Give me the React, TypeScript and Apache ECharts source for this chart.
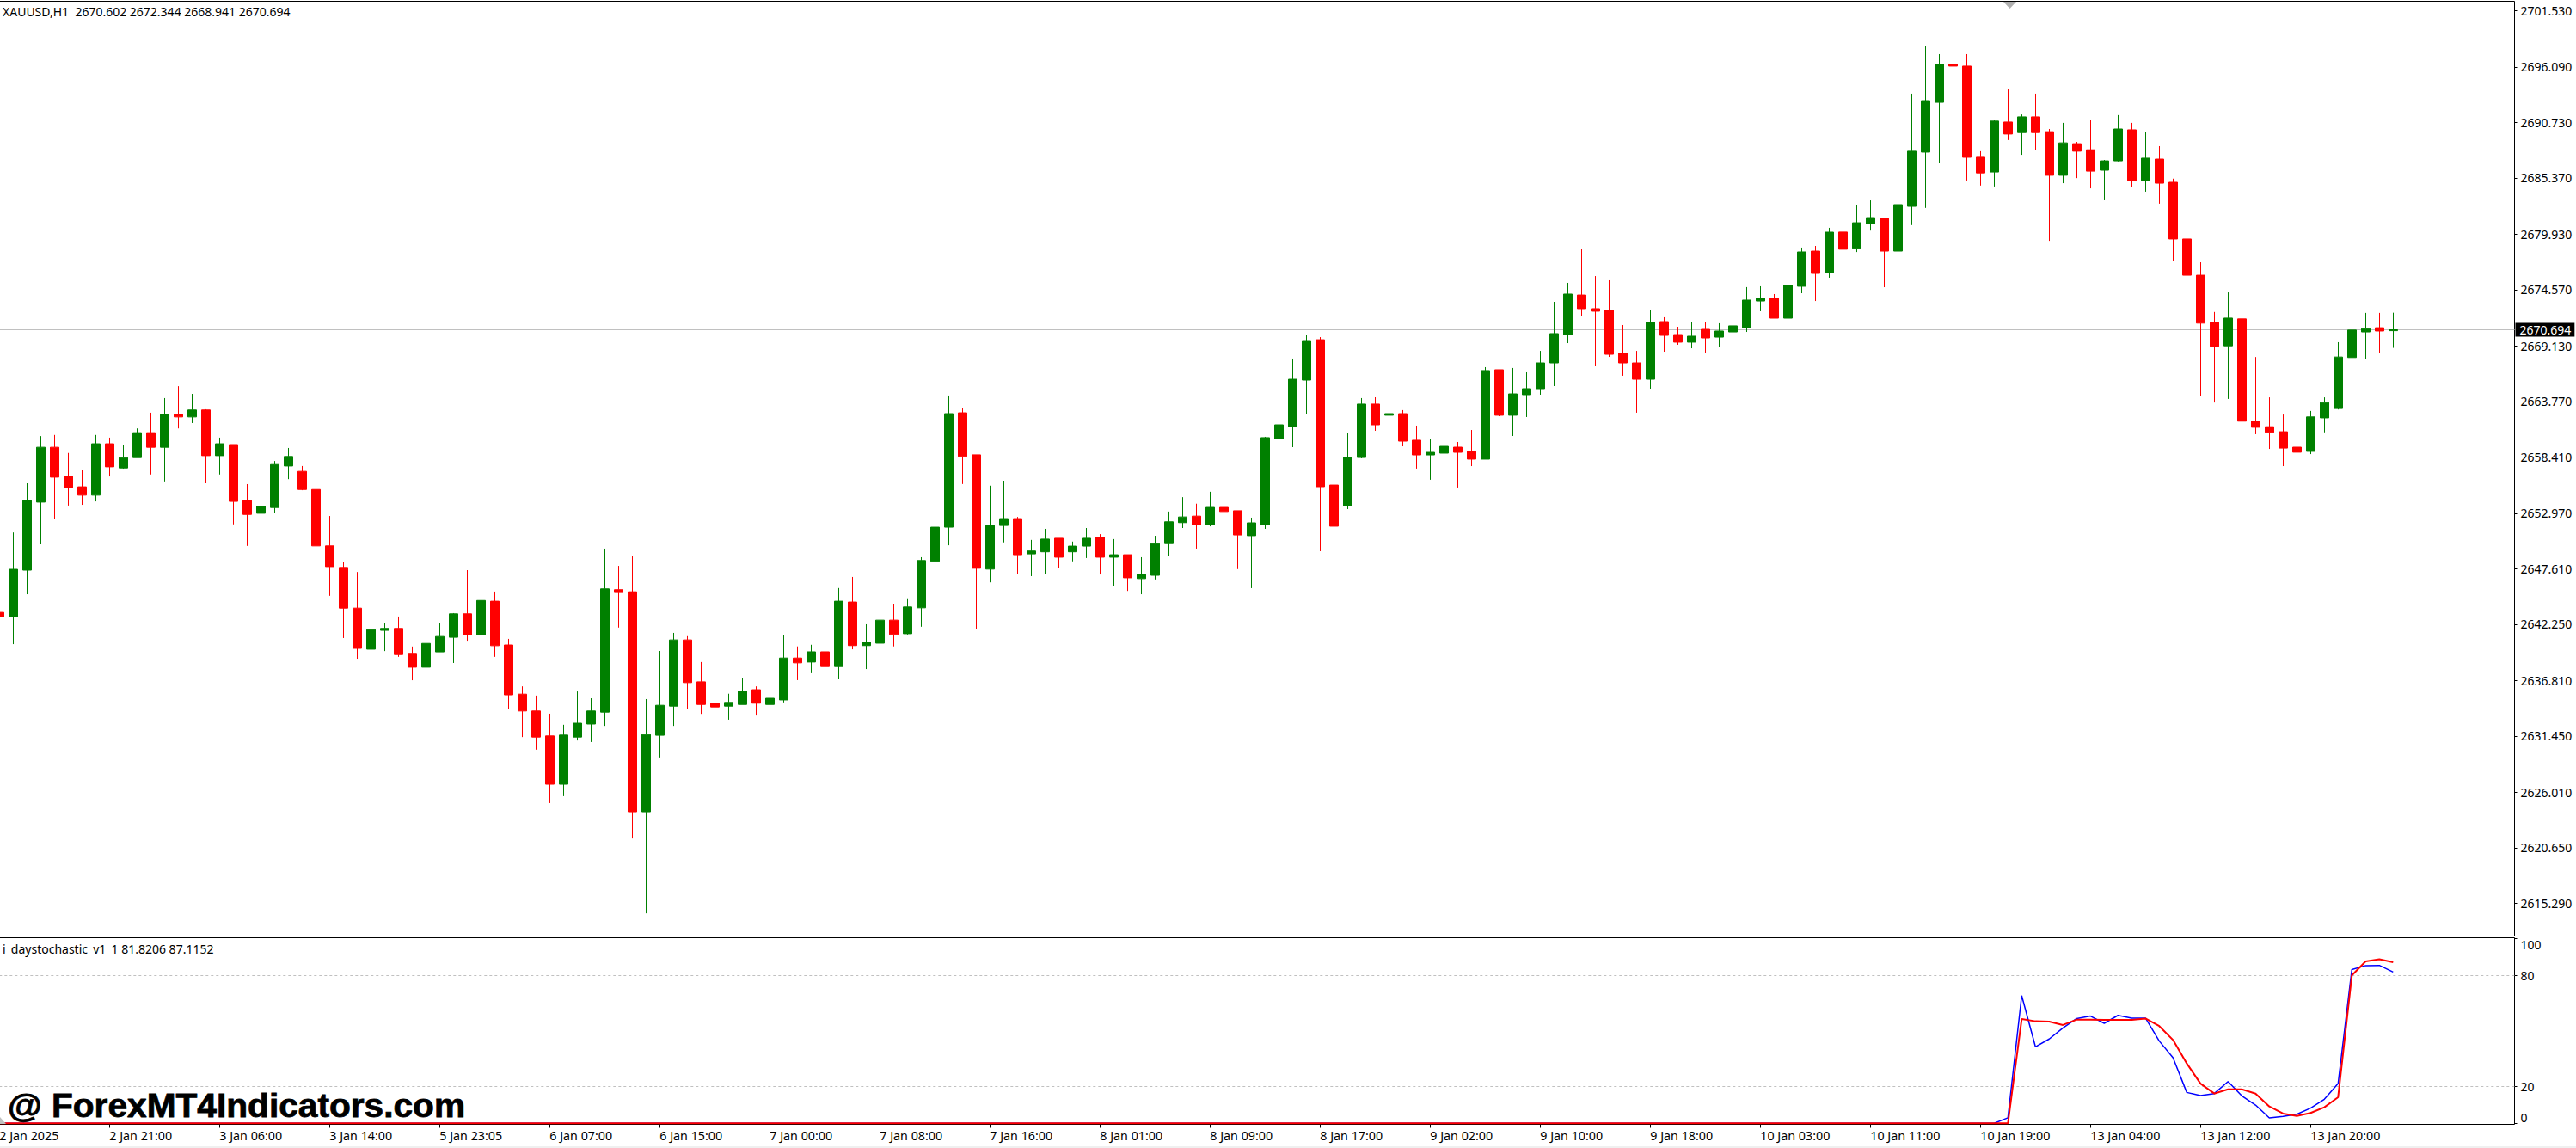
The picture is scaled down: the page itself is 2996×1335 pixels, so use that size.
import React, { useEffect, useRef } from 'react';
import * as echarts from 'echarts';

const opens = [
  2643.39, 2642.95, 2647.47, 2654.04, 2659.34, 2656.52, 2655.52, 2654.71, 2659.68, 2657.34,
  2658.34, 2660.75, 2659.34, 2662.50, 2662.27, 2662.94, 2658.53, 2659.60, 2654.19, 2652.96,
  2653.52, 2657.53, 2657.01, 2655.26, 2649.81, 2647.73, 2643.80, 2639.83, 2641.65, 2641.84,
  2639.43, 2638.09, 2639.57, 2640.98, 2643.25, 2641.24, 2644.47, 2640.24, 2635.49, 2633.86,
  2631.45, 2626.78, 2631.34, 2632.60, 2633.75, 2645.58, 2645.38, 2624.12, 2631.51, 2634.33,
  2640.73, 2636.68, 2634.61, 2634.33, 2634.49, 2635.92, 2634.49, 2634.93, 2638.98, 2638.59,
  2639.58, 2638.15, 2644.39, 2640.18, 2640.41, 2642.64, 2641.33, 2643.83, 2648.32, 2651.62,
  2662.67, 2658.61, 2647.57, 2651.78, 2652.45, 2649.04, 2649.24, 2650.55, 2649.24, 2649.79,
  2650.63, 2648.72, 2648.96, 2646.65, 2646.97, 2650.03, 2652.06, 2652.69, 2651.86, 2653.53,
  2653.21, 2650.80, 2651.87, 2660.18, 2661.34, 2665.83, 2669.73, 2655.69, 2653.70, 2658.35,
  2663.51, 2662.43, 2662.59, 2660.02, 2658.60, 2658.77, 2659.35, 2658.93, 2658.19, 2666.83,
  2662.43, 2664.42, 2665.00, 2667.49, 2670.23, 2674.05, 2672.73, 2672.56, 2668.41, 2667.49,
  2665.91, 2671.48, 2670.23, 2669.49, 2670.73, 2669.98, 2670.48, 2670.90, 2673.47, 2673.72,
  2671.81, 2674.89, 2678.29, 2676.22, 2680.13, 2678.56, 2680.94, 2681.44, 2678.29, 2682.61,
  2687.85, 2692.66, 2696.33, 2696.16, 2687.44, 2685.93, 2690.76, 2689.74, 2691.26, 2689.83,
  2685.61, 2688.67, 2688.08, 2686.10, 2687.01, 2690.01, 2685.11, 2687.18, 2684.94, 2679.46,
  2675.96, 2671.39, 2669.14, 2671.74, 2661.86, 2661.33, 2660.84, 2659.35, 2658.94, 2662.18,
  2663.08, 2668.01, 2670.48, 2670.89, 2670.60,
];
const closes = [
  2642.95, 2647.55, 2654.19, 2659.34, 2656.45, 2655.45, 2654.71, 2659.68, 2657.45, 2658.34,
  2660.75, 2659.34, 2662.50, 2662.27, 2662.94, 2658.53, 2659.68, 2654.11, 2652.85, 2653.63,
  2657.67, 2658.45, 2655.26, 2649.81, 2647.81, 2643.80, 2639.91, 2641.72, 2641.84, 2639.31,
  2638.09, 2640.39, 2641.06, 2643.25, 2641.24, 2644.54, 2640.17, 2635.42, 2633.86, 2631.34,
  2626.78, 2631.53, 2632.68, 2633.86, 2645.66, 2645.30, 2624.12, 2631.59, 2634.41, 2640.73,
  2636.60, 2634.49, 2634.25, 2634.69, 2635.76, 2634.61, 2635.09, 2638.98, 2638.51, 2639.58,
  2638.15, 2644.47, 2640.18, 2640.49, 2642.64, 2641.25, 2643.91, 2648.40, 2651.62, 2662.59,
  2658.45, 2647.65, 2651.78, 2652.45, 2648.96, 2649.32, 2650.47, 2648.72, 2649.79, 2650.55,
  2648.72, 2648.96, 2646.73, 2647.05, 2650.03, 2652.14, 2652.61, 2651.86, 2653.53, 2653.13,
  2650.87, 2652.04, 2660.27, 2661.51, 2665.91, 2669.65, 2655.53, 2651.71, 2658.35, 2663.51,
  2661.51, 2662.59, 2659.93, 2658.60, 2658.85, 2659.43, 2658.85, 2658.19, 2666.75, 2662.43,
  2664.50, 2665.00, 2667.49, 2670.32, 2674.14, 2672.73, 2672.48, 2668.32, 2667.49, 2665.91,
  2671.40, 2670.15, 2669.49, 2670.07, 2669.90, 2670.57, 2671.07, 2673.56, 2673.72, 2671.81,
  2674.97, 2678.21, 2676.13, 2680.12, 2678.47, 2681.03, 2681.53, 2678.29, 2682.78, 2687.94,
  2692.83, 2696.33, 2696.16, 2687.35, 2685.84, 2690.85, 2689.60, 2691.26, 2689.74, 2685.61,
  2688.75, 2687.94, 2686.01, 2687.01, 2690.09, 2685.11, 2687.27, 2684.85, 2679.46, 2675.96,
  2671.33, 2669.08, 2671.82, 2661.86, 2661.27, 2660.78, 2659.26, 2658.86, 2662.27, 2663.66,
  2668.06, 2670.66, 2670.80, 2670.57, 2670.69,
];
const highs = [
  2643.39, 2651.11, 2655.86, 2660.42, 2660.53, 2658.79, 2657.19, 2660.53, 2660.27, 2659.60,
  2661.16, 2662.68, 2664.09, 2665.24, 2664.50, 2663.01, 2660.27, 2659.60, 2655.78, 2656.04,
  2658.01, 2659.27, 2657.53, 2656.45, 2652.70, 2648.29, 2647.29, 2642.65, 2642.39, 2642.99,
  2640.09, 2640.72, 2642.39, 2643.32, 2647.47, 2645.32, 2645.40, 2640.83, 2636.24, 2635.35,
  2633.60, 2632.53, 2635.75, 2635.09, 2649.55, 2647.88, 2648.88, 2635.01, 2639.66, 2641.41,
  2641.09, 2638.59, 2635.53, 2635.53, 2637.08, 2636.24, 2635.17, 2641.17, 2640.10, 2640.26,
  2639.74, 2645.74, 2646.81, 2642.24, 2644.90, 2644.23, 2644.75, 2648.72, 2652.77, 2664.34,
  2663.10, 2658.61, 2655.63, 2656.11, 2652.61, 2650.39, 2651.46, 2650.55, 2650.23, 2651.54,
  2650.95, 2650.47, 2648.96, 2648.72, 2650.79, 2653.13, 2654.52, 2653.89, 2655.04, 2655.20,
  2653.21, 2652.54, 2660.35, 2667.74, 2667.91, 2670.15, 2669.98, 2659.18, 2660.68, 2664.09,
  2664.17, 2663.26, 2662.93, 2661.43, 2660.18, 2662.18, 2659.85, 2661.01, 2667.08, 2666.83,
  2667.00, 2666.58, 2668.65, 2673.39, 2675.22, 2678.46, 2675.88, 2675.47, 2671.15, 2668.65,
  2672.56, 2671.90, 2670.98, 2671.40, 2671.40, 2671.32, 2671.90, 2674.81, 2674.89, 2674.14,
  2675.97, 2678.63, 2678.79, 2680.54, 2682.46, 2682.78, 2683.19, 2681.53, 2683.86, 2693.50,
  2698.14, 2697.32, 2698.08, 2697.32, 2687.94, 2691.00, 2693.91, 2691.49, 2693.50, 2690.09,
  2690.68, 2688.84, 2691.00, 2687.09, 2691.43, 2690.68, 2689.83, 2688.43, 2685.29, 2680.62,
  2677.21, 2672.41, 2674.30, 2672.99, 2668.06, 2664.16, 2662.50, 2660.69, 2662.85, 2664.16,
  2669.49, 2671.15, 2672.32, 2672.32, 2672.34,
];
const lows = [
  2642.95, 2640.32, 2645.14, 2649.96, 2652.44, 2653.71, 2653.78, 2654.11, 2656.52, 2657.27,
  2658.34, 2656.71, 2656.04, 2661.16, 2661.68, 2655.86, 2656.71, 2651.89, 2649.81, 2652.78,
  2652.96, 2656.26, 2655.19, 2643.32, 2644.99, 2640.91, 2638.91, 2638.98, 2639.65, 2639.09,
  2636.83, 2636.57, 2639.57, 2638.50, 2640.65, 2639.65, 2639.09, 2634.08, 2631.34, 2630.12,
  2624.96, 2625.63, 2631.01, 2630.86, 2632.42, 2641.92, 2621.54, 2614.31, 2629.37, 2632.42,
  2634.09, 2633.58, 2632.79, 2633.02, 2634.49, 2633.42, 2632.86, 2634.69, 2636.84, 2637.51,
  2637.24, 2636.92, 2639.82, 2637.91, 2640.01, 2640.10, 2641.25, 2642.00, 2647.29, 2649.87,
  2655.79, 2641.80, 2646.29, 2650.15, 2647.13, 2646.89, 2647.13, 2647.65, 2648.32, 2648.64,
  2647.05, 2645.90, 2645.46, 2645.14, 2646.57, 2648.80, 2651.54, 2649.55, 2651.70, 2652.61,
  2647.57, 2645.73, 2651.46, 2659.93, 2659.35, 2662.59, 2649.30, 2651.71, 2653.37, 2658.27,
  2660.93, 2661.93, 2659.43, 2657.28, 2656.20, 2658.44, 2655.45, 2657.52, 2658.19, 2662.34,
  2660.43, 2662.26, 2664.42, 2665.25, 2669.40, 2671.98, 2667.16, 2668.07, 2666.25, 2662.68,
  2665.00, 2668.57, 2669.24, 2668.90, 2668.49, 2668.99, 2669.24, 2670.48, 2672.48, 2671.81,
  2671.56, 2674.22, 2673.47, 2675.72, 2677.62, 2678.20, 2680.27, 2674.80, 2664.01, 2680.80,
  2682.46, 2686.77, 2692.43, 2685.11, 2684.62, 2684.53, 2689.02, 2687.59, 2688.08, 2679.28,
  2684.85, 2685.34, 2684.35, 2683.28, 2686.95, 2684.44, 2684.03, 2682.87, 2677.30, 2675.47,
  2664.33, 2663.66, 2664.01, 2661.01, 2660.60, 2659.18, 2657.52, 2656.70, 2658.68, 2660.78,
  2662.99, 2666.40, 2667.83, 2668.41, 2668.94,
];

const signalLine = [
  0, 0, 0, 0, 0, 0, 0, 0, 0, 0, 0, 0, 0, 0, 0, 0, 0, 0, 0, 0,
  0, 0, 0, 0, 0, 0, 0, 0, 0, 0, 0, 0, 0, 0, 0, 0, 0, 0, 0, 0,
  0, 0, 0, 0, 0, 0, 0, 0, 0, 0, 0, 0, 0, 0, 0, 0, 0, 0, 0, 0,
  0, 0, 0, 0, 0, 0, 0, 0, 0, 0, 0, 0, 0, 0, 0, 0, 0, 0, 0, 0,
  0, 0, 0, 0, 0, 0, 0, 0, 0, 0, 0, 0, 0, 0, 0, 0, 0, 0, 0, 0,
  0, 0, 0, 0, 0, 0, 0, 0, 0, 0, 0, 0, 0, 0, 0, 0, 0, 0, 0, 0,
  0, 0, 0, 0, 0, 0, 0, 0, 0, 0, 0, 0, 0, 0, 0, 0, 0, 0, 0, 0,
  0, 0, 0, 0, 0, 0, 3,
  69.1, 41.4, 45.6, 51.6, 56.7, 58.0, 54.1, 58.4, 56.9, 56.9,
  44.5, 35.5, 16.7, 15.0, 16.1, 22.6, 14.9, 9.9, 2.9, 3.7,
  4.9, 8.2, 13.0, 21.5, 83.2, 85.3, 85.4, 81.82,
];
const mainLine = [
  0, 0, 0, 0, 0, 0, 0, 0, 0, 0, 0, 0, 0, 0, 0, 0, 0, 0, 0, 0,
  0, 0, 0, 0, 0, 0, 0, 0, 0, 0, 0, 0, 0, 0, 0, 0, 0, 0, 0, 0,
  0, 0, 0, 0, 0, 0, 0, 0, 0, 0, 0, 0, 0, 0, 0, 0, 0, 0, 0, 0,
  0, 0, 0, 0, 0, 0, 0, 0, 0, 0, 0, 0, 0, 0, 0, 0, 0, 0, 0, 0,
  0, 0, 0, 0, 0, 0, 0, 0, 0, 0, 0, 0, 0, 0, 0, 0, 0, 0, 0, 0,
  0, 0, 0, 0, 0, 0, 0, 0, 0, 0, 0, 0, 0, 0, 0, 0, 0, 0, 0, 0,
  0, 0, 0, 0, 0, 0, 0, 0, 0, 0, 0, 0, 0, 0, 0, 0, 0, 0, 0, 0,
  0, 0, 0, 0, 0, 0, 0,
  56.4, 55.2, 55.0, 53.2, 56.1, 56.1, 56.0, 56.0, 56.0, 56.7,
  52.6, 45.1, 32.4, 21.5, 16.1, 18.4, 18.4, 16.1, 9.1, 5.3,
  4.0, 5.6, 8.7, 14.1, 80.0, 87.6, 88.7, 87.12,
];

const priceTicks = [
  2701.53, 2696.09, 2690.73, 2685.37, 2679.93, 2674.57, 2669.13, 2663.77, 2658.41,
  2652.97, 2647.61, 2642.25, 2636.81, 2631.45, 2626.01, 2620.65, 2615.29,
];
const stochTicks = [0, 20, 80, 100];
const stochLevels = [80, 20];
const timeTickBars = [
  0, 8, 16, 24, 32, 40, 48, 56, 64, 72, 80, 88, 96, 104, 112, 120, 128, 136, 144, 152, 160, 168,
];
const timeLabels = [
  '2 Jan 2025', '2 Jan 21:00', '3 Jan 06:00', '3 Jan 14:00', '5 Jan 23:05', '6 Jan 07:00',
  '6 Jan 15:00', '7 Jan 00:00', '7 Jan 08:00', '7 Jan 16:00', '8 Jan 01:00', '8 Jan 09:00',
  '8 Jan 17:00', '9 Jan 02:00', '9 Jan 10:00', '9 Jan 18:00', '10 Jan 03:00', '10 Jan 11:00',
  '10 Jan 19:00', '13 Jan 04:00', '13 Jan 12:00', '13 Jan 20:00',
];
const lastPrice = 2670.694;

const UI_FONT = '"Noto Sans", sans-serif';
const FONT_SIZE = 14;

export default function App() {
  const ref = useRef<HTMLDivElement>(null);
  useEffect(() => {
    if (!ref.current) return;
    const chart = echarts.init(ref.current, undefined, { renderer: 'svg' });
    const xExtent = { type: 'value' as const, min: 0, max: 182.825, splitLine: { show: false } };
    const pane = { left: -0.7, width: 2925.2, show: true, borderColor: '#000', borderWidth: 1, backgroundColor: 'transparent', outerBoundsMode: 'none' };
    chart.setOption({
      animation: false,
      backgroundColor: '#fff',
      grid: [
        { ...pane, top: 1.5, height: 1087 },
        { ...pane, top: 1090.5, height: 217 },
      ],
      xAxis: [
        { ...xExtent, gridIndex: 0, axisLine: { show: false, onZero: false }, axisTick: { show: false }, axisLabel: { show: false } },
        {
          ...xExtent,
          gridIndex: 1,
          axisLine: { show: false, onZero: false },
          axisTick: { show: true, customValues: timeTickBars, length: 4, lineStyle: { color: '#000' } },
          axisLabel: {
            customValues: timeTickBars,
            formatter: (v: number) => timeLabels[timeTickBars.indexOf(v)],
            align: 'left',
            color: '#000',
            fontFamily: UI_FONT,
            fontSize: 14.3,
            margin: 6,
          },
        },
      ],
      yAxis: [
        {
          type: 'value',
          gridIndex: 0,
          position: 'right',
          min: 2612.12,
          max: 2702.427,
          splitLine: { show: false },
          axisLine: { show: false, onZero: false },
          axisTick: { show: true, customValues: priceTicks, length: 3, lineStyle: { color: '#000' } },
          axisLabel: {
            customValues: priceTicks,
            formatter: (v: number) => v.toFixed(3),
            color: '#000',
            fontFamily: UI_FONT,
            fontSize: FONT_SIZE,
            margin: 7,
          },
        },
        {
          type: 'value',
          gridIndex: 1,
          position: 'right',
          min: -0.56,
          max: 100.37,
          splitLine: { show: false },
          axisLine: { show: false, onZero: false },
          axisTick: { show: true, customValues: stochTicks, length: 3, lineStyle: { color: '#000' } },
          axisLabel: {
            customValues: stochTicks,
            color: '#000',
            fontFamily: UI_FONT,
            fontSize: FONT_SIZE,
            margin: 7,
            verticalAlignMinLabel: 'bottom',
            verticalAlignMaxLabel: 'top',
          },
        },
      ],
      series: [
        {
          type: 'candlestick',
          xAxisIndex: 0,
          yAxisIndex: 0,
          barWidth: 10,
          clip: true,
          data: opens.map((o, i) => [i, o, closes[i], lows[i], highs[i]]),
          itemStyle: {
            color: '#008000',
            color0: '#ff0000',
            borderColor: '#008000',
            borderColor0: '#ff0000',
            borderWidth: 1,
          },
          markLine: {
            silent: true,
            symbol: 'none',
            z: 1,
            lineStyle: { color: '#c0c0c0', type: 'solid', width: 1 },
            label: {
              show: true,
              position: 'end',
              distance: 1,
              formatter: () => lastPrice.toFixed(3),
              color: '#fff',
              backgroundColor: '#000',
              fontFamily: UI_FONT,
              fontSize: FONT_SIZE,
              padding: [1, 4, 1, 5],
            },
            data: [{ yAxis: lastPrice }],
          },
        },
        {
          type: 'line',
          xAxisIndex: 1,
          yAxisIndex: 1,
          data: signalLine.map((v, i) => [i, v]),
          showSymbol: false,
          lineStyle: { color: '#0000ff', width: 1.5 },
          markLine: {
            silent: true,
            symbol: 'none',
            z: 1,
            label: { show: false },
            lineStyle: { color: '#c0c0c0', type: [3, 3], width: 1 },
            data: stochLevels.map((v) => ({ yAxis: v })),
          },
        },
        {
          type: 'line',
          xAxisIndex: 1,
          yAxisIndex: 1,
          data: mainLine.map((v, i) => [i, v]),
          showSymbol: false,
          lineStyle: { color: '#ff0000', width: 2 },
        },
      ],
      graphic: [
        { type: 'text', left: 3, top: 6, style: { text: 'XAUUSD,H1  2670.602 2672.344 2668.941 2670.694', fill: '#000', font: `${FONT_SIZE}px ${UI_FONT}` } },
        { type: 'text', left: 3, top: 1096, style: { text: 'i_daystochastic_v1_1 81.8206 87.1152', fill: '#000', font: `${FONT_SIZE}px ${UI_FONT}` } },
        { type: 'text', x: 9, y: 1266, scaleX: 1.07, z: 10, style: { text: '@ ForexMT4Indicators.com', fill: '#000', stroke: '#000', lineWidth: 0.8, font: 'bold 38px "Liberation Sans", Arial, sans-serif' } },
        { type: 'polygon', z: 10, shape: { points: [[2330, 2], [2345, 2], [2337.5, 10]] }, style: { fill: '#b0b0b0' } },
        { type: 'polygon', z: 10, shape: { points: [[0, 1299], [7, 1307], [0, 1307]] }, style: { fill: '#c0c0c0' } },
        { type: 'rect', z: 0, shape: { x: 0, y: 1333, width: 2996, height: 2 }, style: { fill: '#f0f0f0' } },
      ],
    });
    return () => chart.dispose();
  }, []);
  return <div ref={ref} style={{ position: 'fixed', left: 0, top: 0, width: 2996, height: 1335 }} />;
}
